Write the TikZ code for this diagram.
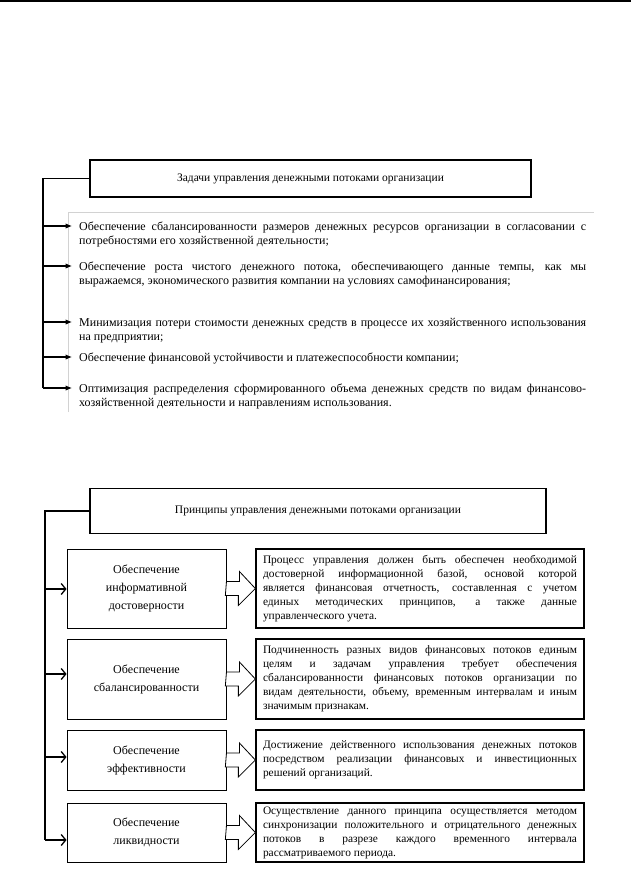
\documentclass[tikz,border=0pt]{standalone}
\usepackage{fontspec}
\setmainfont{Liberation Serif}
\usetikzlibrary{arrows.meta,calc}
\hyphenpenalty=10000
\exhyphenpenalty=10000
\begin{document}
\begin{tikzpicture}[x=1pt,y=-1pt,
  hdr/.style={draw, line width=1.6pt, font=\fontsize{11.5}{14}\selectfont, inner sep=0pt},
  lbox/.style={draw, line width=0.9pt, minimum width=159pt, text width=150pt, align=center, font=\fontsize{12}{18}\selectfont, inner sep=0pt},
  rbox/.style={draw, line width=1.3pt, minimum width=328pt, text width=314pt, align=justify, font=\fontsize{11.4}{14}\selectfont, inner sep=0pt},
  item/.style={anchor=base west, text width=507pt, align=justify, inner sep=0pt, font=\fontsize{12}{14.5}\selectfont},
  spine/.style={line width=1.3pt},
  farr/.style={line width=1.1pt, shorten >=7pt, -{Latex[length=6.5pt,width=5.5pt]}},
  oarr/.style={line width=1.2pt, -{Straight Barb[length=4.5pt,width=11pt,line width=1.3pt]}},
  hol/.style={draw, line width=0.8pt, fill=white},
]
\useasboundingbox (0,0) rectangle (631,872);
\draw[line width=2pt] (0,1.5) -- (631,1.5);

% ---------- top section ----------
\node[hdr, minimum width=441pt, minimum height=37pt] (h1) at (310.5,178.5) {Задачи управления денежными потоками организации};
\draw[line width=0.7pt, gray!35] (68,412) -- (68,212) -- (594,212);

\node[item] (i1) at (79,230) {Обеспечение сбалансированности размеров денежных ресурсов организации в согласовании с\linebreak потребностями его хозяйственной деятельности;};
\node[item] (i2) at (79,270) {Обеспечение роста чистого денежного потока, обеспечивающего данные темпы, как мы\linebreak выражаемся, экономического развития компании на условиях самофинансирования;};
\node[item] (i3) at (79,326) {Минимизация потери стоимости денежных средств в процессе их хозяйственного использования\linebreak на предприятии;};
\node[item] (i4) at (79,361) {Обеспечение финансовой устойчивости и платежеспособности компании;};
\node[item] (i5) at (79,392) {Оптимизация распределения сформированного объема денежных средств по видам финансово-\linebreak хозяйственной деятельности и направлениям использования.};

\coordinate (s0) at (43,178.5);
\coordinate (s1) at (43,226);
\coordinate (s2) at (43,266);
\coordinate (s3) at (43,322);
\coordinate (s4) at (43,357);
\coordinate (s5) at (43,388);
\draw[spine] (h1.west) -- (s0) -- (s5);
\draw[farr] (s1) -- (s1 -| i1.west);
\draw[farr] (s2) -- (s2 -| i2.west);
\draw[farr] (s3) -- (s3 -| i3.west);
\draw[farr] (s4) -- (s4 -| i4.west);
\draw[farr] (s5) -- (s5 -| i5.west);

% ---------- bottom section ----------
\node[hdr, minimum width=456pt, minimum height=45pt] (h2) at (318,511) {Принципы управления денежными потоками организации};

\node[lbox, minimum height=79pt] (b1) at (146.5,588.5) {Обеспечение\\информативной\\достоверности};
\node[lbox, minimum height=80pt] (b2) at (146.5,679) {Обеспечение\\сбалансированности};
\node[lbox, minimum height=60pt] (b3) at (146.5,760) {Обеспечение\\эффективности};
\node[lbox, minimum height=59pt] (b4) at (146.5,832.5) {Обеспечение\\ликвидности};

\node[rbox, minimum height=79pt] (r1) at (420,588.5) {Процесс управления должен быть обеспечен необходимой\linebreak достоверной информационной базой, основой которой\linebreak является финансовая отчетность, составленная с учетом\linebreak единых методических принципов, а также данные\linebreak управленческого учета.};
\node[rbox, minimum height=80pt] (r2) at (420,679) {Подчиненность разных видов финансовых потоков единым\linebreak целям и задачам управления требует обеспечения\linebreak сбалансированности финансовых потоков организации по\linebreak видам деятельности, объему, временным интервалам и иным\linebreak значимым признакам.};
\node[rbox, minimum height=60pt] (r3) at (420,760) {Достижение действенного использования денежных потоков\linebreak посредством реализации финансовых и инвестиционных\linebreak решений организаций.};
\node[rbox, minimum height=59pt] (r4) at (420,832.5) {Осуществление данного принципа осуществляется методом\linebreak синхронизации положительного и отрицательного денежных\linebreak потоков в разрезе каждого временного интервала\linebreak рассматриваемого периода.};

\coordinate (q0) at (45,511);
\coordinate (q1) at (45,589);
\coordinate (q2) at (45,674);
\coordinate (q3) at (45,757);
\coordinate (q4) at (45,840);
\draw[spine] (h2.west) -- (q0) -- (q4);
\draw[oarr] (q1) -- (q1 -| b1.west);
\draw[oarr] (q2) -- (q2 -| b2.west);
\draw[oarr] (q3) -- (q3 -| b3.west);
\draw[oarr] (q4) -- (q4 -| b4.west);

\foreach \a/\b in {b1/r1,b2/r2,b3/r3,b4/r4}{
  \draw[hol] (\a.east) ++(0,-7) -- ++(13,0) -- ++(0,-10) -- (\b.west) -- ++(-17,17) -- ++(0,-10) -- ++(-13,0) -- cycle;
}
\end{tikzpicture}
\end{document}
